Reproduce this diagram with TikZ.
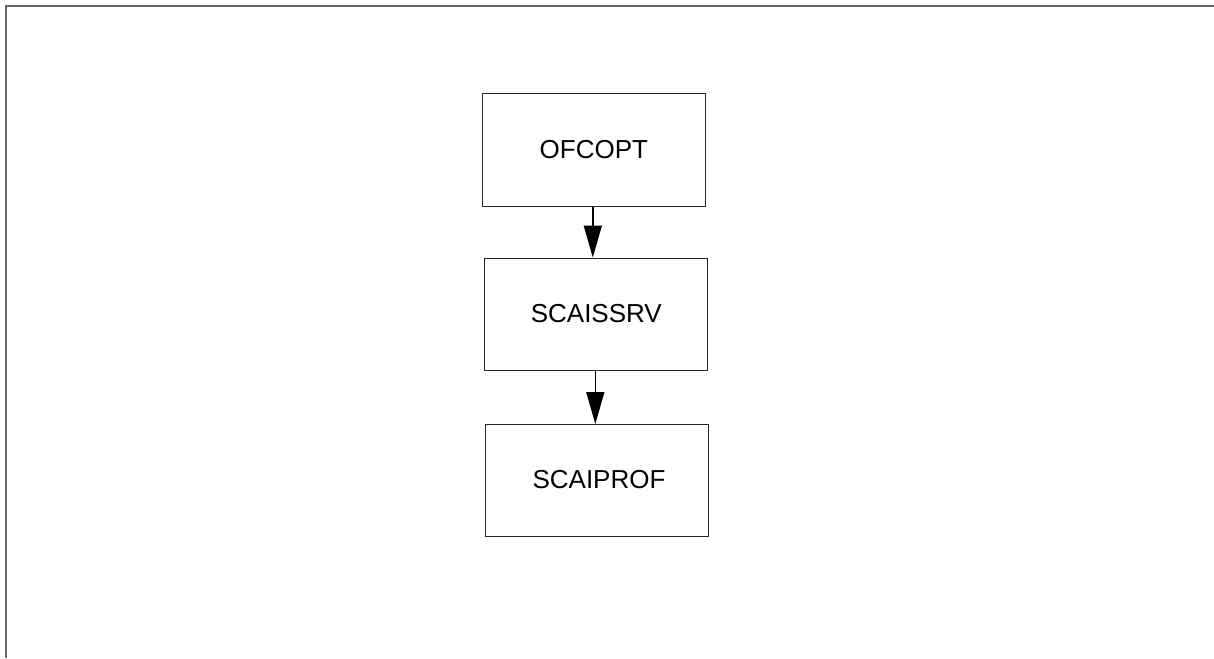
\documentclass[tikz,border=0pt]{standalone}
\usepackage{fontspec}
\setmainfont{Liberation Sans}
\usetikzlibrary{arrows.meta, positioning}

\begin{document}
\begin{tikzpicture}[
    x=1pt, y=-1pt,
    framerule/.style = {draw=black!60, line width=1.6pt},
    tblbox/.style = {rectangle, draw=black!85, line width=1pt, minimum width=223pt, minimum height=112pt, inner sep=0pt, font=\fontsize{26}{31}\selectfont},
    arrow/.style = {draw=black, line width=1.5pt, -{Triangle[length=32pt, width=18pt]}}
]
\useasboundingbox (0,0) rectangle (1214,658);

% frame along top and left edge
\draw [framerule] (1214,6) -- (6,6) -- (6,658);

\node (ofcopt) [tblbox] at (593.8, 150) {\raisebox{1.5pt}{OFCOPT}};
\node (scaissrv) [tblbox] at (596.3, 314) {\raisebox{1.2pt}{SCAISSRV}};
\node (scaiprof) [tblbox] at (596.5, 480.5) {\hspace{5pt}\raisebox{2pt}{SCAIPROF}};

\draw [arrow] ([xshift=-1pt]ofcopt.south) -- ([xshift=-1pt]ofcopt.south |- scaissrv.north);
\draw [arrow] ([xshift=-1pt]scaissrv.south) -- ([xshift=-1pt]scaissrv.south |- scaiprof.north);

\end{tikzpicture}
\end{document}
